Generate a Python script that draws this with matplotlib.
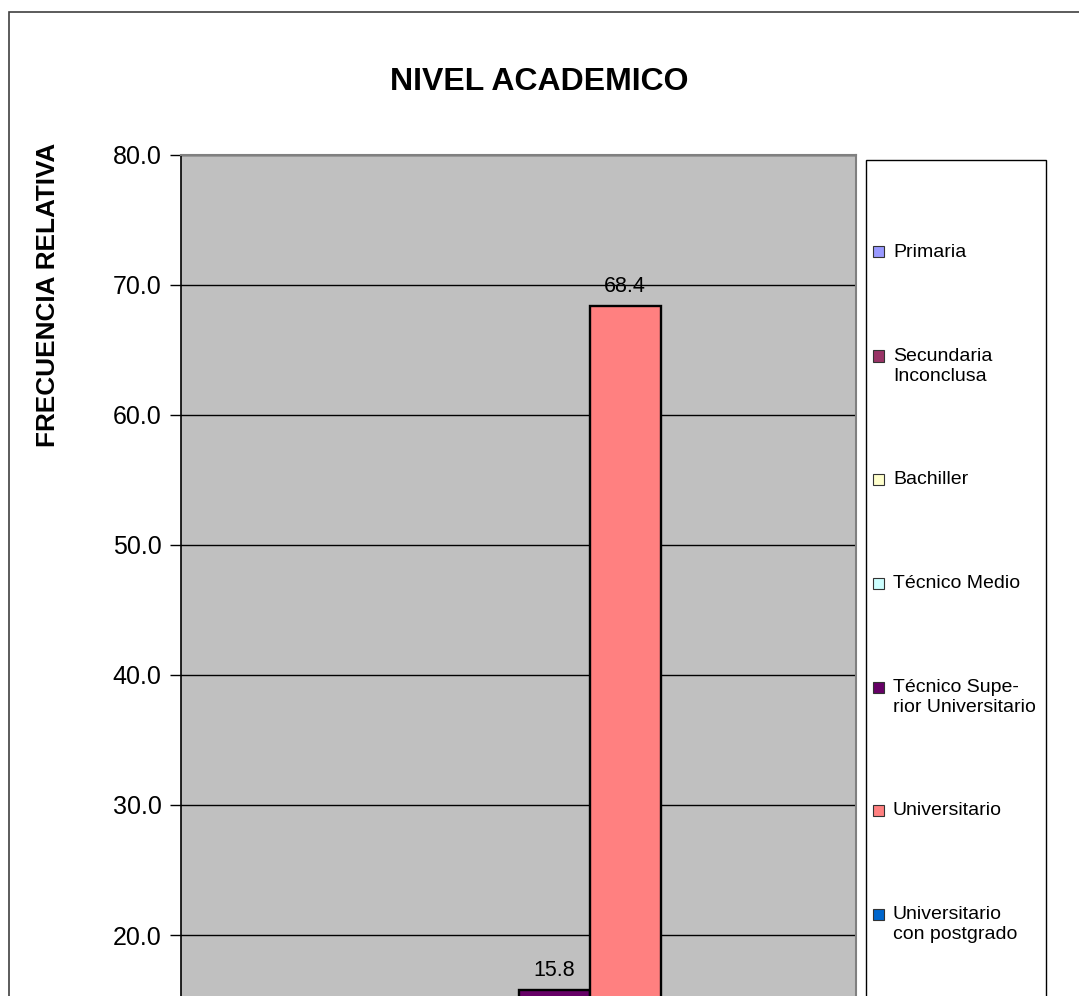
import numpy as np
import matplotlib
matplotlib.use("Agg")
import matplotlib.pyplot as plt
from matplotlib.patches import Rectangle

plt.rcParams['font.family'] = ['Liberation Sans', 'DejaVu Sans']

# data (only the two tallest bars are visible, the rest are cut off below 15)
categorias = ['Primaria', 'Secundaria\nInconclusa', 'Bachiller', 'Técnico Medio',
              'Técnico Supe-\nrior Universitario', 'Universitario',
              'Universitario\ncon postgrado', 'Otro']
valores = [0.0, 0.0, 5.3, 5.3, 15.8, 68.4, 5.3, 0.0]
colores = ['#9999FF', '#993366', '#FFFFCC', '#CCFFFF', '#660066', '#FF8080',
           '#0066CC', '#CCCCFF']
yticks = [0, 10, 20, 30, 40, 50, 60, 70, 80]

W, H = 1079, 996
fig = plt.figure(figsize=(W / 100, H / 100), dpi=100)

def fx(px):
    return px / W

def fy(py):
    return 1 - py / H

# outer chart border (cut off at right and bottom)
fig.add_artist(Rectangle((fx(9), fy(1300)), fx(1200), fy(12) - fy(1300),
                         transform=fig.transFigure, fill=False,
                         edgecolor='#404040', lw=1.2))

# plot area: top at 80 (y=155 px), bottom at 0 lies below the picture
ax_l, ax_r, ax_t, ax_b = 181, 856, 155, 1195
ax = fig.add_axes([fx(ax_l), fy(ax_b), fx(ax_r - ax_l), fy(ax_t) - fy(ax_b)])
ax.set_facecolor('#C0C0C0')

n = len(valores)
pos = np.arange(n) - (n - 1) / 2
bars = ax.bar(pos, valores, width=1.0, color=colores, edgecolor='black',
              linewidth=1.7, zorder=3)
labs = ax.bar_label(bars, labels=[f"{v:.1f}" for v in valores], padding=6,
                    fontsize=15.5, zorder=4)
for t, v in zip(labs, valores):
    if v < 15:
        t.set_visible(False)

ax.set_xlim(pos[0] - 0.5 - 0.75, pos[-1] + 0.5 + 0.75)
ax.set_ylim(0, 80)
ax.set_yticks(yticks)
ax.set_yticklabels([f"{t:.1f}" for t in yticks], fontsize=18)
# labels for 0 and 10 fall below the cropped picture
for lab, t in zip(ax.get_yticklabels(), yticks):
    if t < 15:
        lab.set_visible(False)
ax.set_xticks([])
ax.tick_params(axis='y', length=8, width=1, pad=6, color='black')
ax.yaxis.grid(True, color='black', linewidth=1)
ax.set_axisbelow(True)
for s in ax.spines.values():
    s.set_color('#808080')
    s.set_linewidth(1.5)
ax.spines['left'].set_color('black')
ax.spines['left'].set_linewidth(1.2)

fig.text(fx(539), fy(82), 'NIVEL ACADEMICO', ha='center', va='center',
         fontsize=23, fontweight='bold')
fig.text(fx(48), fy(295), 'FRECUENCIA RELATIVA', ha='center', va='center',
         rotation=90, fontsize=18.8, fontweight='bold')

# legend box drawn by hand so the marker sits on the first text line
fig.add_artist(Rectangle((fx(866), fy(1300)), fx(1046 - 866), fy(160) - fy(1300),
                         transform=fig.transFigure, facecolor='white',
                         edgecolor='black', lw=1.0))
y = 252
for nombre, c in zip(categorias, colores):
    nl = nombre.count('\n') + 1
    if y < H:
        fig.add_artist(Rectangle((fx(873), fy(y + 5.5)), fx(11), fy(y - 5.5) - fy(y + 5.5),
                                 transform=fig.transFigure, facecolor=c,
                                 edgecolor='#333333', lw=0.8))
        fig.text(fx(893), fy(y - 8), nombre, ha='left', va='top', fontsize=14,
                 linespacing=1.2)
    y += 104 + 19 * (nl - 1)

fig.savefig('out.png', dpi=100)
